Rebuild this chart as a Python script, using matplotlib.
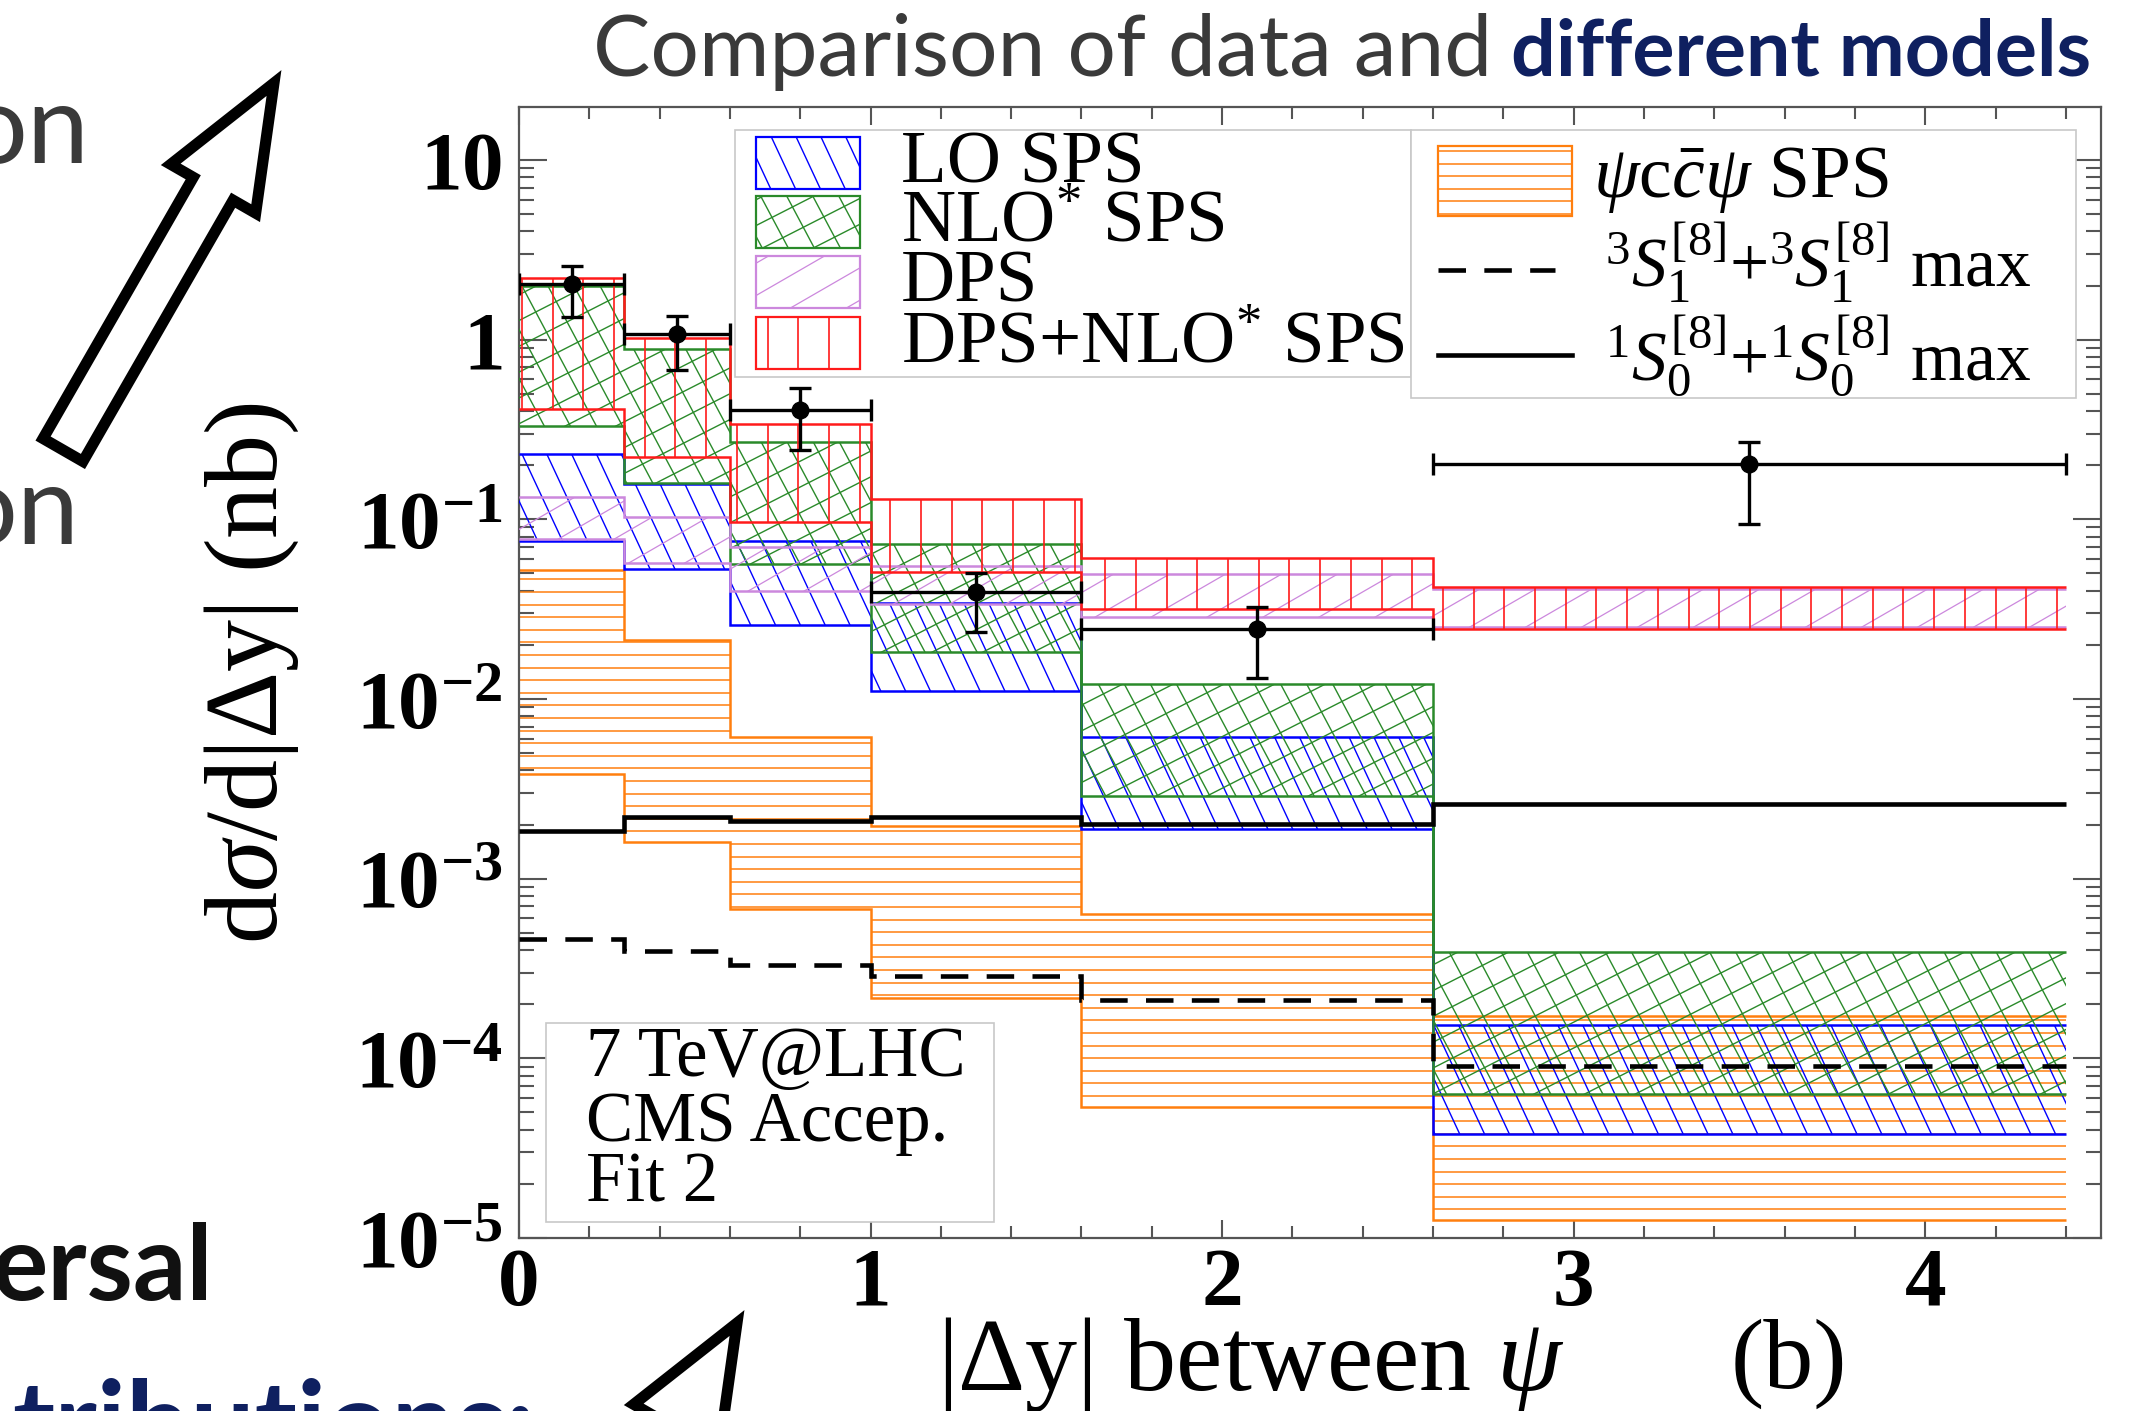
import numpy as np
import matplotlib
matplotlib.use("Agg")
import matplotlib.pyplot as plt
from matplotlib.collections import LineCollection
from matplotlib.patches import Rectangle, FancyArrow
from matplotlib.lines import Line2D
from matplotlib.transforms import IdentityTransform
from matplotlib.ticker import MultipleLocator, LogLocator, NullFormatter

plt.rcParams['mathtext.fontset'] = 'custom'
plt.rcParams['mathtext.rm'] = 'Liberation Serif'
plt.rcParams['mathtext.it'] = 'Liberation Serif:italic'
plt.rcParams['mathtext.bf'] = 'Liberation Serif:bold'
plt.rcParams['font.family'] = ['Liberation Serif', 'DejaVu Serif']

# ---------------- data ----------------
bin_edges = [0.0, 0.3, 0.6, 1.0, 1.6, 2.6, 4.4]

data_x = [0.15, 0.45, 0.8, 1.3, 2.1, 3.5]
data_xerr = [0.15, 0.15, 0.2, 0.3, 0.5, 0.9]
data_y = [2.04, 1.07, 0.408, 0.0394, 0.0246, 0.202]
data_y_hi = [2.57, 1.35, 0.535, 0.0502, 0.0327, 0.27]
data_y_lo = [1.33, 0.676, 0.242, 0.0236, 0.0131, 0.0946]

lo_sps_hi = [0.23, 0.157, 0.076, 0.0342, 0.00618, 1.54e-4]
lo_sps_lo = [0.076, 0.053, 0.0257, 0.0111, 0.00189, 3.81e-5]
nlo_sps_hi = [2.0, 0.89, 0.27, 0.073, 0.0121, 3.93e-4]
nlo_sps_lo = [0.33, 0.159, 0.0566, 0.0182, 0.0029, 6.32e-5]
dps_hi = [0.133, 0.103, 0.070, 0.055, 0.0494, 0.041]
dps_lo = [0.078, 0.057, 0.040, 0.0339, 0.0286, 0.0252]
dps_nlo_hi = [2.19, 1.02, 0.338, 0.129, 0.0611, 0.042]
dps_nlo_lo = [0.41, 0.222, 0.0967, 0.0509, 0.0318, 0.0246]
psiccpsi_hi = [0.052, 0.0212, 0.00613, 0.00197, 6.37e-4, 1.71e-4]
psiccpsi_lo = [0.00383, 0.00160, 6.78e-4, 2.18e-4, 5.33e-5, 1.26e-5]
s1_octet_max = [4.61e-4, 3.97e-4, 3.32e-4, 2.88e-4, 2.10e-4, 9.08e-5]
s0_octet_max = [1.85e-3, 2.21e-3, 2.09e-3, 2.20e-3, 2.02e-3, 2.61e-3]

x_ticks = [0, 1, 2, 3, 4]
x_tick_labels = ['0', '1', '2', '3', '4']
y_ticks = [1e-5, 1e-4, 1e-3, 1e-2, 1e-1, 1, 10]
y_tick_labels = [r'$\mathbf{10^{-5}}$', r'$\mathbf{10^{-4}}$', r'$\mathbf{10^{-3}}$',
                 r'$\mathbf{10^{-2}}$', r'$\mathbf{10^{-1}}$', r'$\mathbf{1}$', r'$\mathbf{10}$']

legend1_labels = ['LO SPS', r'NLO$^{*}$ SPS', 'DPS', r'DPS+NLO$^{*}$ SPS']
legend2_labels = [r'$\psi$c$\bar{c}\psi$ SPS',
                  r'${}^{3}S_{1}^{[8]}{+}{}^{3}S_{1}^{[8]}$ max',
                  r'${}^{1}S_{0}^{[8]}{+}{}^{1}S_{0}^{[8]}$ max']
info_lines = ['7 TeV@LHC', 'CMS Accep.', 'Fit 2']

# ---------------- styles ----------------
STY = {
    'psi': dict(color='#ff7f0e', angles=[0], spacing=12.6, lw=1.1),
    'lo': dict(color='#0000ff', angles=[-65], spacing=22.5, lw=1.0),
    'nlo': dict(color='#2a8a2a', angles=[-62, 27], spacing=23.0, lw=1.0),
    'dps': dict(color='#cc88dd', angles=[30], spacing=28.0, lw=0.9),
    'sum': dict(color='#ff1a1a', angles=[90], spacing=30.7, lw=1.2),
}

W, H = 2150, 1411
fig = plt.figure(figsize=(W / 100, H / 100), dpi=100)
fig.patch.set_facecolor('white')


def frect(x0, y0, x1, y1, **kw):
    """rectangle given in pixel coords measured from the top-left"""
    return Rectangle((x0 / W, 1 - y1 / H), (x1 - x0) / W, (y1 - y0) / H,
                     transform=fig.transFigure, **kw)


def hatch(container, clip_patch, sty, zorder):
    for ang in sty['angles']:
        th = np.deg2rad(ang)
        d = np.array([np.cos(th), np.sin(th)])
        n = np.array([-np.sin(th), np.cos(th)])
        corners = np.array([[0, 0], [W, 0], [0, H], [W, H]], float)
        proj = corners @ n
        sp = sty['spacing']
        ks = np.arange(np.floor(proj.min() / sp) - 1, np.ceil(proj.max() / sp) + 2)
        L = 5000.0
        segs = [[k * sp * n - L * d, k * sp * n + L * d] for k in ks]
        lc = LineCollection(segs, colors=sty['color'], linewidths=sty['lw'],
                            transform=IdentityTransform(), zorder=zorder)
        if container is fig:
            fig.add_artist(lc)
        else:
            container.add_collection(lc, autolim=False)
        lc.set_clip_path(clip_patch)


# ---------------- axes ----------------
ax_l, ax_r, ax_t, ax_b = 519, 2101, 107, 1238
ax = fig.add_axes([ax_l / W, 1 - ax_b / H, (ax_r - ax_l) / W, (ax_b - ax_t) / H])
ax.set_yscale('log')
ax.set_xlim(0, 4.5)
ax.set_ylim(1e-5, 19.7)


def band(lo, hi, key, z):
    sty = STY[key]
    for i in range(len(lo)):
        e0, e1 = bin_edges[i], bin_edges[i + 1]
        r = Rectangle((e0, lo[i]), e1 - e0, hi[i] - lo[i], transform=ax.transData)
        hatch(ax, r, sty, z)
    ax.stairs(hi, bin_edges, baseline=None, color=sty['color'], lw=1.8, zorder=z + 0.1)
    ax.stairs(lo, bin_edges, baseline=None, color=sty['color'], lw=1.8, zorder=z + 0.1)


band(psiccpsi_lo, psiccpsi_hi, 'psi', 2)
band(lo_sps_lo, lo_sps_hi, 'lo', 3)
band(nlo_sps_lo, nlo_sps_hi, 'nlo', 4)
band(dps_lo, dps_hi, 'dps', 5)
band(dps_nlo_lo, dps_nlo_hi, 'sum', 6)

ax.stairs(s0_octet_max, bin_edges, baseline=None, color='black', lw=3.3, zorder=7)
ax.stairs(s1_octet_max, bin_edges, baseline=None, color='black', lw=3.3,
          linestyle=(0, (6, 4)), zorder=7)

yerr = [np.array(data_y) - np.array(data_y_lo), np.array(data_y_hi) - np.array(data_y)]
ax.errorbar(data_x, data_y, xerr=data_xerr, yerr=yerr, fmt='o', color='black',
            ms=12, capsize=8, elinewidth=2.4, capthick=2.4, zorder=9)

# ticks
ax.set_xticks(x_ticks)
ax.set_xticklabels(x_tick_labels, fontweight='bold')
ax.xaxis.set_minor_locator(MultipleLocator(0.2))
ax.set_yticks(y_ticks)
ax.set_yticklabels(y_tick_labels)
ax.yaxis.set_minor_locator(LogLocator(base=10, subs=np.arange(2, 10) * 1.0, numticks=30))
ax.yaxis.set_minor_formatter(NullFormatter())
ax.tick_params(which='both', direction='in', top=True, right=True, color='#555555',
               width=1.5)
ax.tick_params(axis='x', which='major', length=13, pad=7, labelsize=60)
ax.tick_params(axis='x', which='minor', length=8.5)
ax.tick_params(axis='y', which='major', length=20, pad=12, labelsize=60)
ax.tick_params(axis='y', which='minor', length=11)
for s in ax.spines.values():
    s.set_color('#555555')
    s.set_linewidth(1.6)

ax.set_ylabel('d$\\sigma$/d|Δy| (nb)', fontsize=75)
ax.yaxis.set_label_coords((252 - ax_l) / (ax_r - ax_l), 0.5)
ax.yaxis.label.set_va('center')
ax.set_xlabel('|Δy| between $\\psi$', fontsize=75)
ax.xaxis.set_label_coords((1251 - ax_l) / (ax_r - ax_l), -(1364 - ax_b) / (ax_b - ax_t))
ax.xaxis.label.set_va('center')
ax.text((1789 - ax_l) / (ax_r - ax_l), -(1364 - ax_b) / (ax_b - ax_t), '(b)',
        transform=ax.transAxes, ha='center', va='center', fontsize=72)

# ---------------- legends & info box ----------------
fig.add_artist(frect(735, 130, 1411, 377, facecolor='white', edgecolor='#c8c8c8', lw=1.2, zorder=10))
fig.add_artist(frect(1411, 130, 2076, 398, facecolor='white', edgecolor='#c8c8c8', lw=1.2, zorder=10))

leg1_keys = ['lo', 'nlo', 'dps', 'sum']
leg1_rows = [163, 222, 282, 343]
for key, lab, yc in zip(leg1_keys, legend1_labels, leg1_rows):
    clip = frect(756, yc - 26, 860, yc + 26)
    hatch(fig, clip, STY[key], 11)
    fig.add_artist(frect(756, yc - 26, 860, yc + 26, fill=False, edgecolor=STY[key]['color'],
                         lw=1.6, zorder=12))
    fig.text(901 / W, 1 - (yc + 2) / H, lab, ha='left', va='center', fontsize=54, zorder=12)

clip = frect(1438, 146, 1572, 216)
hatch(fig, clip, STY['psi'], 11)
fig.add_artist(frect(1438, 146, 1572, 216, fill=False, edgecolor=STY['psi']['color'], lw=1.6, zorder=12))
fig.text(1593 / W, 1 - 180 / H, legend2_labels[0], ha='left', va='center', fontsize=53, zorder=12)
fig.add_artist(Line2D([1438 / W, 1555 / W], [1 - 270 / H, 1 - 270 / H], transform=fig.transFigure,
                      color='black', lw=3.3, linestyle=(0, (6, 4)), zorder=12))
fig.text(1605 / W, 1 - 262 / H, legend2_labels[1], ha='left', va='center', fontsize=50, zorder=12)
fig.add_artist(Line2D([1438 / W, 1572 / W], [1 - 355 / H, 1 - 355 / H], transform=fig.transFigure,
                      color='black', lw=3.3, zorder=12))
fig.text(1605 / W, 1 - 355 / H, legend2_labels[2], ha='left', va='center', fontsize=50, zorder=12)

fig.add_artist(frect(546, 1023, 994, 1222, facecolor='white', edgecolor='#c8c8c8', lw=1.2, zorder=10))
for txt, yc in zip(info_lines, [1058, 1123, 1184]):
    fig.text(586 / W, 1 - yc / H, txt, ha='left', va='center', fontsize=51, zorder=12)

# ---------------- slide decorations ----------------
sans = ['Lato', 'DejaVu Sans']
renderer = fig.canvas.get_renderer()


def fit(t, target_w):
    w = t.get_window_extent(renderer).width
    t.set_fontsize(t.get_fontsize() * target_w / w)


t_bold = fig.text(2091 / W, 1 - 76 / H, 'different models', ha='right', va='baseline',
                  fontsize=55, fontweight='bold', color='#0f2060', family=sans)
fit(t_bold, 579)
t_norm = fig.text(1492 / W, 1 - 76 / H, 'Comparison of data and', ha='right', va='baseline',
                  fontsize=55, fontweight='normal', color='#3a3a3a', family=sans)
fit(t_norm, 900)

fig.text(89 / W, 1 - 163 / H, 'on', ha='right', va='baseline', fontsize=80,
         color='#3a3a3a', family=sans)
fig.text(79 / W, 1 - 544 / H, 'on', ha='right', va='baseline', fontsize=80,
         color='#3a3a3a', family=sans)
fig.text(213 / W, 1 - 1300 / H, 'ersal', ha='right', va='baseline', fontsize=76,
         fontweight='bold', color='#111111', family=sans)
fig.text(535 / W, 1 - 1462 / H, 'tributions:', ha='right', va='baseline', fontsize=82,
         fontweight='bold', color='#0f2060', family=sans)

for tip in [(274, 83), (737, 1323)]:
    dx, dy = 211, 367
    tx, ty = tip[0] - dx, H - tip[1] - dy
    arr = FancyArrow(tx, ty, dx, dy, width=46, head_width=98, head_length=122,
                     length_includes_head=True, transform=IdentityTransform(),
                     facecolor='white', edgecolor='black', lw=8, joinstyle='miter', zorder=20)
    fig.add_artist(arr)

fig.savefig('out.png', dpi=100, facecolor='white')
